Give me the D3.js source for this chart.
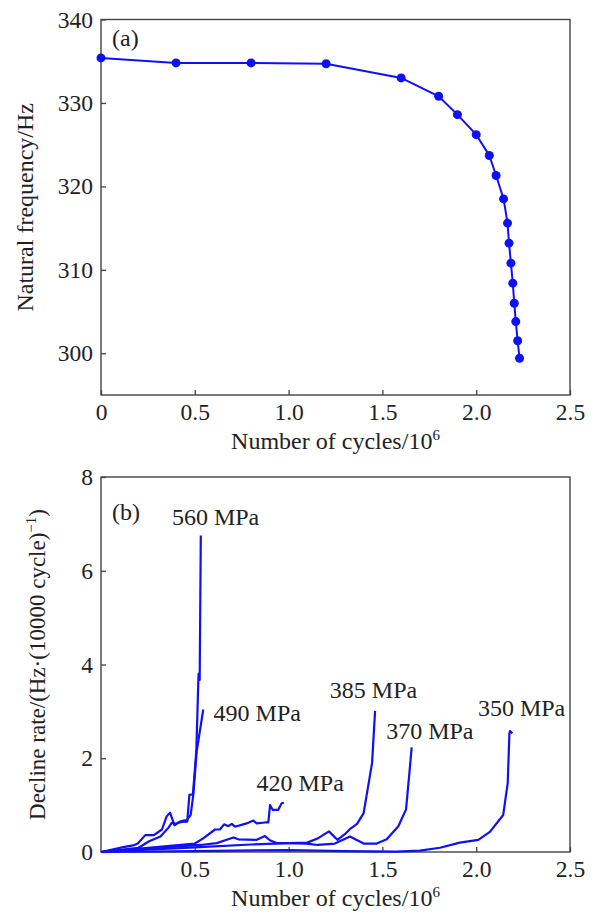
<!DOCTYPE html>
<html>
<head>
<meta charset="utf-8">
<script src="https://cdn.jsdelivr.net/npm/d3@7"></script>
<style>
  body { margin: 0; background: #fff; }
  text { font-family: "Liberation Serif", "Times New Roman", serif; fill: #222; }
</style>
</head>
<body>
<svg id="chart"></svg>
<script>
// (a) natural frequency vs cycles
const cyclesA = [0, 0.4, 0.8, 1.2, 1.6, 1.8, 1.9, 2.0, 2.07, 2.106, 2.146, 2.167, 2.175, 2.185, 2.195, 2.203, 2.211, 2.221, 2.231];
const freqA = [335.4, 334.8, 334.8, 334.7, 333.0, 330.8, 328.6, 326.2, 323.7, 321.3, 318.5, 315.6, 313.2, 310.8, 308.4, 306.0, 303.8, 301.5, 299.4];

// (b) decline rate, one list of [cycles, rate] per stress level
const s560 = [[0,0],[0.125,0.11],[0.172,0.14],[0.196,0.18],[0.236,0.36],[0.282,0.36],[0.325,0.48],[0.35,0.76],[0.368,0.84],[0.392,0.57],[0.41,0.62],[0.43,0.64],[0.46,0.65],[0.471,1.22],[0.49,1.23],[0.508,2.15],[0.52,3.8],[0.526,3.67],[0.532,6.75]];
const s490 = [[0,0],[0.2,0.09],[0.257,0.23],[0.317,0.33],[0.36,0.52],[0.377,0.62],[0.4,0.6],[0.428,0.66],[0.457,0.68],[0.478,0.79],[0.492,1.22],[0.51,2.14],[0.545,3.04]];
const s420 = [[0,0],[0.5,0.18],[0.545,0.29],[0.608,0.48],[0.634,0.48],[0.656,0.59],[0.679,0.55],[0.697,0.6],[0.714,0.54],[0.776,0.61],[0.812,0.67],[0.83,0.61],[0.874,0.63],[0.892,0.63],[0.901,1.0],[0.915,0.9],[0.945,0.9],[0.963,1.04],[0.975,1.05]];
const s385 = [[0,0],[0.5,0.1],[0.8,0.16],[1.0,0.19],[1.1,0.2],[1.16,0.3],[1.215,0.44],[1.26,0.26],[1.3,0.38],[1.33,0.5],[1.365,0.6],[1.4,0.83],[1.445,1.9],[1.461,3.01]];
const s370 = [[0,0],[0.53,0.15],[0.617,0.19],[0.67,0.26],[0.706,0.31],[0.732,0.27],[0.83,0.26],[0.874,0.34],[0.9,0.25],[0.936,0.19],[0.99,0.19],[1.095,0.18],[1.156,0.15],[1.247,0.18],[1.327,0.33],[1.4,0.18],[1.47,0.18],[1.523,0.27],[1.585,0.55],[1.626,0.91],[1.647,1.82],[1.656,2.23]];
const s350 = [[0,0],[0.5,0.02],[1.0,0.04],[1.3,0.02],[1.576,0.01],[1.7,0.03],[1.807,0.09],[1.913,0.2],[2.011,0.26],[2.073,0.43],[2.144,0.79],[2.168,1.47],[2.177,2.53],[2.18,2.58],[2.193,2.53]];
const seriesB = [s560, s490, s420, s385, s370, s350];

// stress labels: text and anchor point in data units
const stressNames = ["560 MPa", "490 MPa", "420 MPa", "385 MPa", "370 MPa", "350 MPa"];
const stressAt = [[0.378, 6.98], [0.6, 2.8], [0.829, 1.3], [1.22, 3.28], [1.52, 2.42], [2.009, 2.9]];

const ticksXA = [0, 0.5, 1.0, 1.5, 2.0, 2.5];
const ticksXB = [0.5, 1.0, 1.5, 2.0, 2.5];
const ticksYA = [300, 310, 320, 330, 340];
const ticksYB = [0, 2, 4, 6, 8];

const width = 594, height = 917;
const blue = "#1010f5";
const fs = 24;

const svg = d3.select("#chart").attr("width", width).attr("height", height);

const left = 101, right = 570;
const fmtX = d => d === 0 ? "0" : d3.format(".1f")(d);

function panel(top, bottom, yDomain, ticksX, ticksY, titleGap) {
  const x = d3.scaleLinear().domain([0, 2.5]).range([left, right]);
  const y = d3.scaleLinear().domain(yDomain).range([bottom, top]);

  const xAxis = d3.axisBottom(x).tickValues(ticksX).tickFormat(fmtX).tickSize(-5).tickPadding(8);
  const yAxis = d3.axisLeft(y).tickValues(ticksY).tickFormat(d3.format("d")).tickSize(-5).tickPadding(8);

  const gx = svg.append("g").attr("transform", `translate(0,${bottom})`).call(xAxis);
  const gy = svg.append("g").attr("transform", `translate(${left},0)`).call(yAxis);
  [gx, gy].forEach(g => {
    g.select(".domain").remove();
    g.selectAll("line").attr("stroke", "#444").attr("stroke-width", 1.3);
    g.selectAll("text").style("font-size", "23.5px").attr("fill", "#222")
      .style("font-family", '"Liberation Serif", serif');
  });

  svg.append("rect")
    .attr("x", left).attr("y", top)
    .attr("width", right - left).attr("height", bottom - top)
    .attr("fill", "none").attr("stroke", "#444").attr("stroke-width", 1.4);

  // x title with superscript
  const t = svg.append("text")
    .attr("x", (left + right) / 2).attr("y", bottom + titleGap)
    .attr("text-anchor", "middle").style("font-size", fs + "px");
  t.append("tspan").text("Number of cycles/10");
  t.append("tspan").attr("dy", -9).style("font-size", "15px").text("6");

  return { x, y };
}

// panel (a)
const a = panel(19.5, 395, [295, 340], ticksXA, ticksYA, 54);
const ptsA = cyclesA.map((c, i) => [c, freqA[i]]);
svg.append("path")
  .datum(ptsA)
  .attr("d", d3.line().x(d => a.x(d[0])).y(d => a.y(d[1])))
  .attr("fill", "none").attr("stroke", blue).attr("stroke-width", 2);
svg.append("g").selectAll("circle")
  .data(ptsA)
  .join("circle")
  .attr("cx", d => a.x(d[0])).attr("cy", d => a.y(d[1]))
  .attr("r", 4.5).attr("fill", blue);

svg.append("text").attr("x", 112).attr("y", 46).style("font-size", fs + "px").text("(a)");
svg.append("text")
  .attr("transform", `translate(33,${(19.5 + 395) / 2}) rotate(-90)`)
  .attr("text-anchor", "middle").style("font-size", fs + "px")
  .text("Natural frequency/Hz");

// panel (b)
const b = panel(477, 852, [0, 8], ticksXB, ticksYB, 54);
const lineB = d3.line().x(d => b.x(d[0])).y(d => b.y(d[1]));
svg.append("g").selectAll("path")
  .data(seriesB)
  .join("path")
  .attr("d", lineB)
  .attr("fill", "none").attr("stroke", blue).attr("stroke-width", 2.2)
  .attr("stroke-linejoin", "round");

svg.append("g").selectAll("text")
  .data(stressNames)
  .join("text")
  .attr("x", (d, i) => b.x(stressAt[i][0]))
  .attr("y", (d, i) => b.y(stressAt[i][1]))
  .style("font-size", fs + "px")
  .text(d => d);

svg.append("text").attr("x", 112).attr("y", 520).style("font-size", fs + "px").text("(b)");
const yt = svg.append("text")
  .attr("transform", `translate(45,${(477 + 852) / 2}) rotate(-90)`)
  .attr("text-anchor", "middle").style("font-size", "23px");
yt.append("tspan").text("Decline rate/(Hz\u00b7(10000 cycle)");
yt.append("tspan").attr("dy", -9).style("font-size", "15px").text("\u22121");
yt.append("tspan").attr("dy", 9).text(")");
</script>
</body>
</html>
